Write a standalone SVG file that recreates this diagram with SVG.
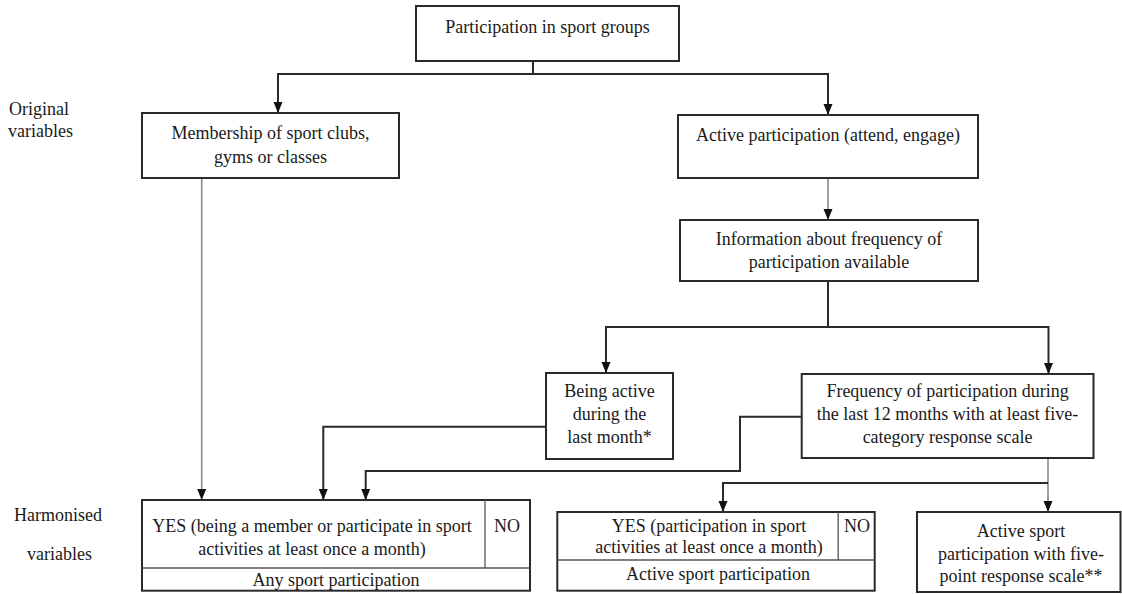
<svg xmlns="http://www.w3.org/2000/svg" width="1122" height="594" viewBox="0 0 1122 594" font-family="'Liberation Serif', 'Times New Roman', serif">
<defs>
<style>
text{font-family:'Liberation Serif','Times New Roman',serif;font-size:18px;fill:#1a1a1a}
.c{text-anchor:middle}
.box{fill:#fff;stroke:#2a2a2a;stroke-width:2}
.div{stroke:#555;stroke-width:1.3;fill:none}
.k{fill:none;stroke:#2a2a2a;stroke-width:2}
.g{fill:none;stroke:#8a8a8a;stroke-width:1.6}
</style>
<marker id="ah" markerUnits="userSpaceOnUse" markerWidth="12" markerHeight="12" viewBox="0 0 12 10" refX="11" refY="5" orient="auto">
<path d="M0,0.5 L11,5 L0,9.5 Z" fill="#111"/>
</marker>
</defs>
<rect width="1122" height="594" fill="#fff"/>

<g id="labels">
<text x="9" y="115">Original</text>
<text x="8" y="137">variables</text>
<text x="14" y="521">Harmonised</text>
<text x="27" y="560">variables</text>
</g>

<g id="connectors">
<path class="k" d="M533,61 V74 H278 V113" marker-end="url(#ah)"/>
<path class="k" d="M533,74 H828 V115" marker-end="url(#ah)"/>
<path class="g" d="M201.7,178 V500" marker-end="url(#ah)"/>
<path class="g" d="M828,178 V220" marker-end="url(#ah)"/>
<path class="k" d="M828,281 V327 H606 V373" marker-end="url(#ah)"/>
<path class="k" d="M828,327 H1048.5 V374" marker-end="url(#ah)"/>
<path class="k" d="M546,426.7 H323.3 V500" marker-end="url(#ah)"/>
<path class="k" d="M801.7,416.7 H740 V471 H365.7 V500" marker-end="url(#ah)"/>
<path class="g" d="M1048,458 V512" marker-end="url(#ah)"/>
<path class="k" d="M1048,483 H723 V512" marker-end="url(#ah)"/>
</g>

<g id="top">
<rect class="box" x="416" y="6" width="263" height="55"/>
<text class="c" x="547.5" y="33">Participation in sport groups</text>
</g>

<g id="membership">
<rect class="box" x="142" y="113" width="257" height="65"/>
<text class="c" x="270.5" y="139">Membership of sport clubs,</text>
<text class="c" x="270.5" y="163">gyms or classes</text>
</g>

<g id="active">
<rect class="box" x="678" y="115" width="300" height="63"/>
<text class="c" x="828" y="141">Active participation (attend, engage)</text>
</g>

<g id="information">
<rect class="box" x="680" y="220" width="298" height="61"/>
<text class="c" x="829" y="245">Information about frequency of</text>
<text class="c" x="829" y="268">participation available</text>
</g>

<g id="being-active">
<rect class="box" x="546" y="373" width="127" height="86"/>
<text class="c" x="609.5" y="397">Being active</text>
<text class="c" x="609.5" y="420">during the</text>
<text class="c" x="609.5" y="443">last month*</text>
</g>

<g id="frequency">
<rect class="box" x="801.7" y="374" width="291.8" height="84"/>
<text class="c" x="947.6" y="397">Frequency of participation during</text>
<text class="c" x="947.6" y="420">the last 12 months with at least five-</text>
<text class="c" x="947.6" y="443">category response scale</text>
</g>

<g id="any-sport">
<rect class="box" x="142" y="500" width="388" height="90.7"/>
<line class="div" x1="142" y1="568" x2="530" y2="568"/>
<line class="div" x1="485" y1="500" x2="485" y2="568"/>
<text class="c" x="312" y="532">YES (being a member or participate in sport</text>
<text class="c" x="312" y="555">activities at least once a month)</text>
<text class="c" x="507" y="532">NO</text>
<text class="c" x="336" y="586">Any sport participation</text>
</g>

<g id="active-sport">
<rect class="box" x="557.3" y="512" width="317.4" height="78.7"/>
<line class="div" x1="557.3" y1="560" x2="874.7" y2="560"/>
<line class="div" x1="838.2" y1="512" x2="838.2" y2="560"/>
<text class="c" x="709" y="532">YES (participation in sport</text>
<text class="c" x="709" y="553">activities at least once a month)</text>
<text class="c" x="857" y="532">NO</text>
<text class="c" x="718" y="580">Active sport participation</text>
</g>

<g id="five-point">
<rect class="box" x="917" y="512" width="203.5" height="80"/>
<text class="c" x="1021" y="537">Active sport</text>
<text class="c" x="1021" y="560">participation with five-</text>
<text class="c" x="1021" y="582">point response scale**</text>
</g>
</svg>
